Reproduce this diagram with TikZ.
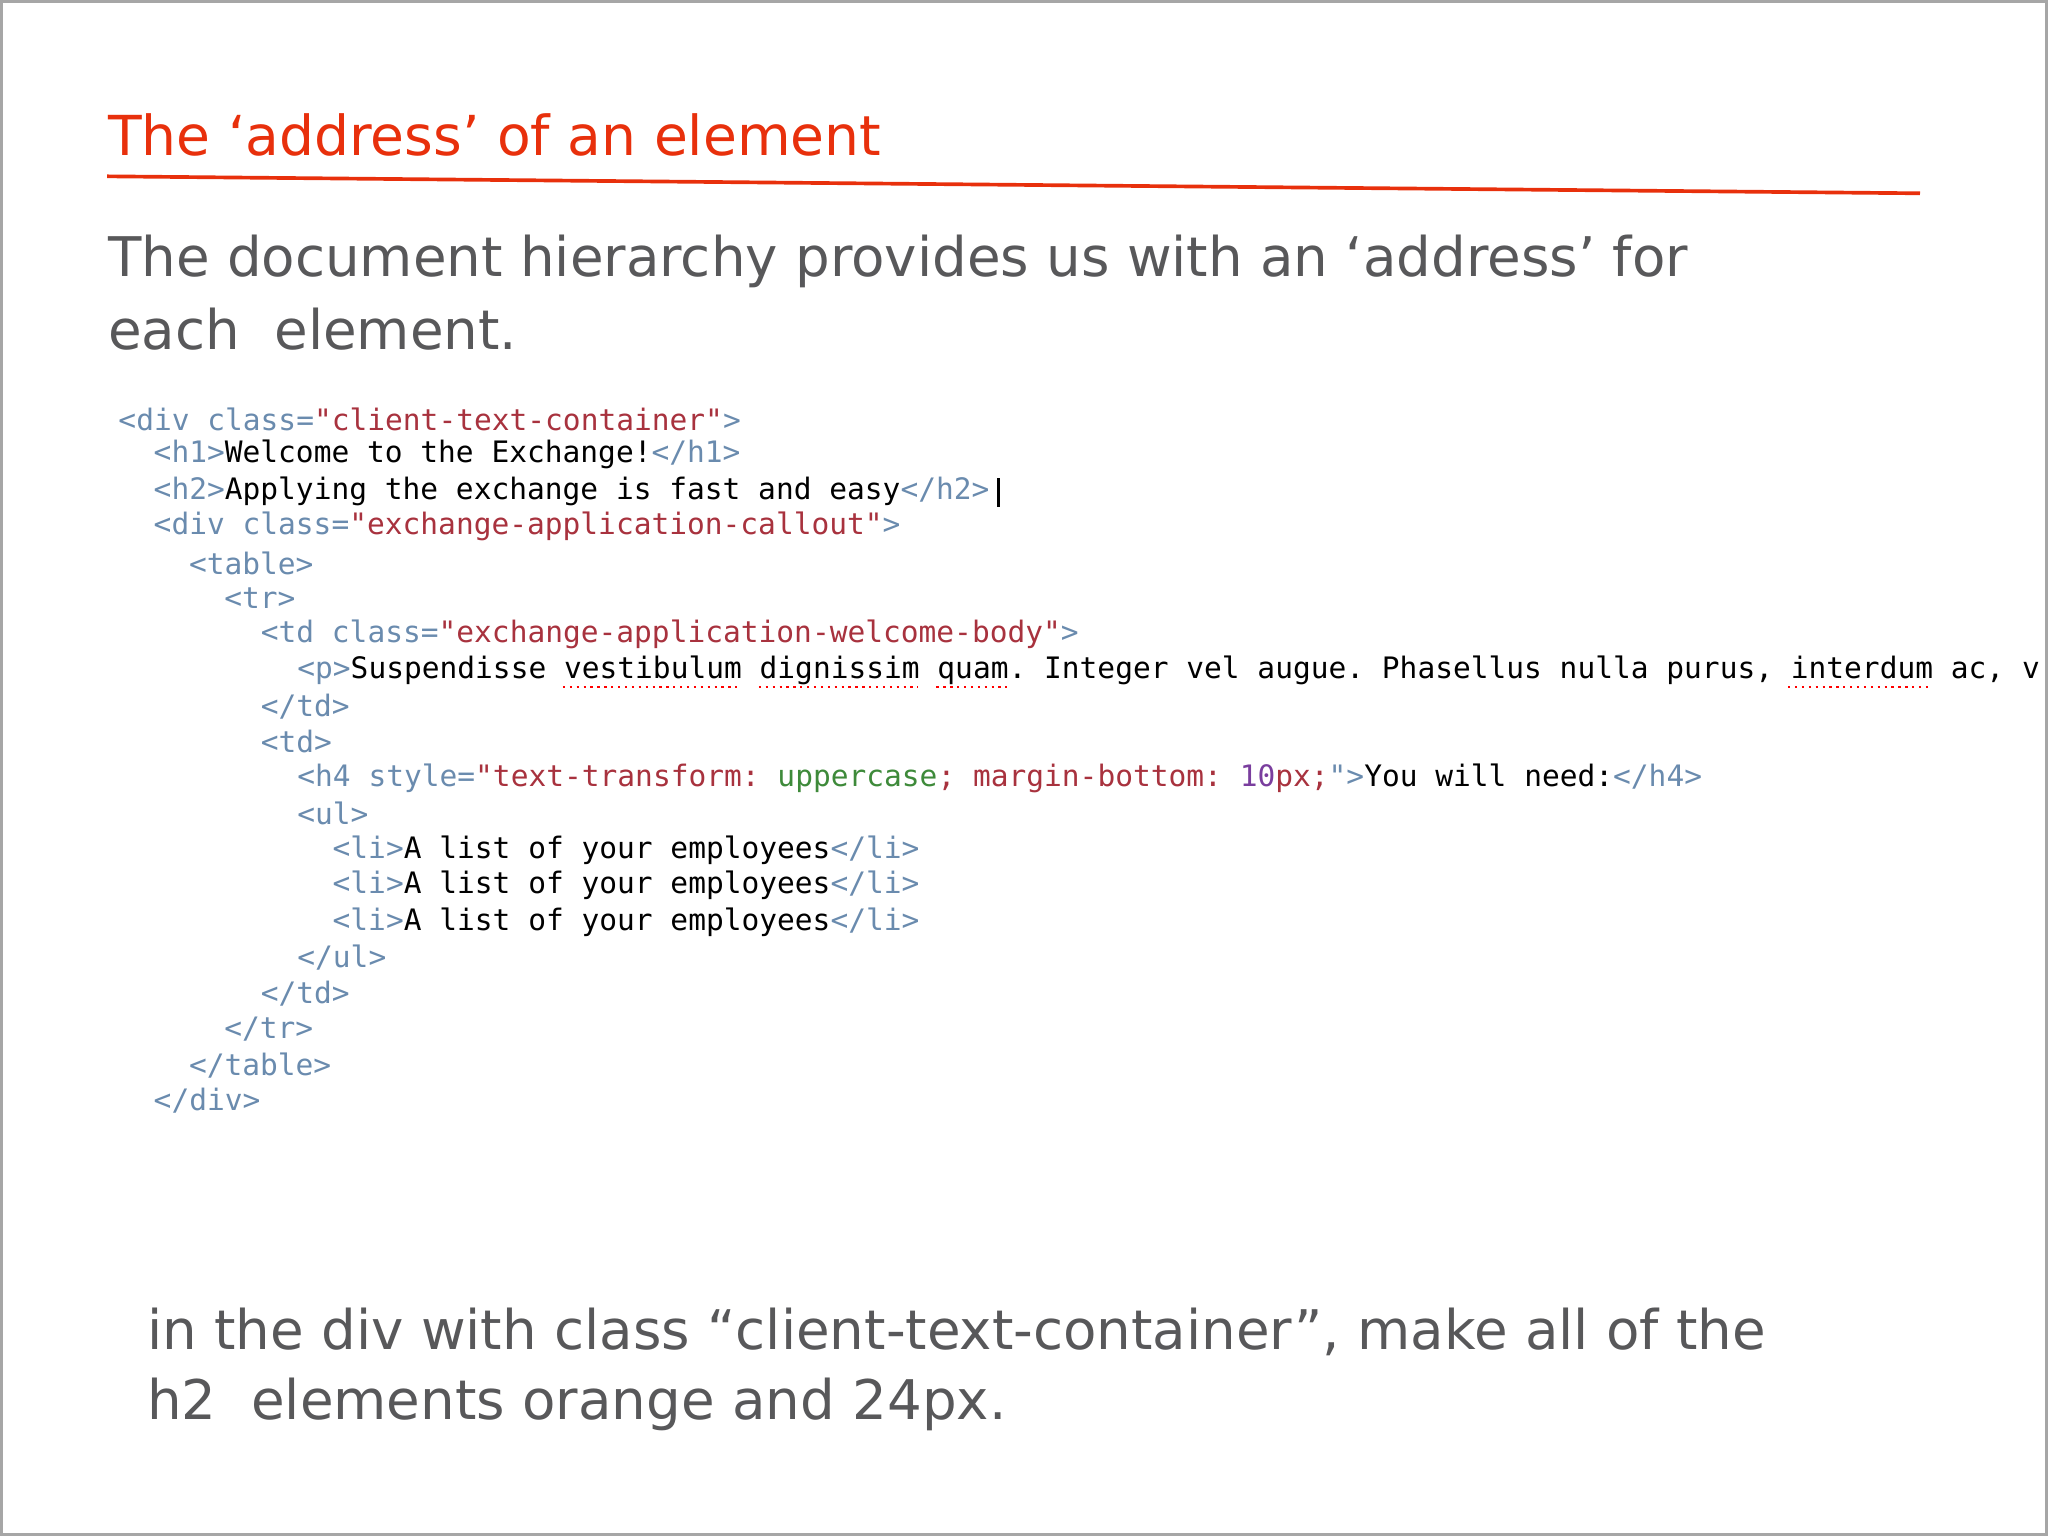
\documentclass[tikz,border=0pt]{standalone}
\usepackage{fontspec}
\setmainfont{DejaVu Sans}
\setmonofont{DejaVu Sans Mono}
\definecolor{titlered}{HTML}{E8300C}
\definecolor{bodygray}{HTML}{58585A}
\definecolor{tagc}{HTML}{6A8BAE}
\definecolor{valc}{HTML}{A8323E}
\definecolor{grnc}{HTML}{3E8A3A}
\definecolor{purc}{HTML}{7A3E9E}
\newcommand{\tg}[1]{\textcolor{tagc}{#1}}
\newcommand{\vl}[1]{\textcolor{valc}{#1}}
\tikzset{
  codeline/.style={anchor=west, inner sep=0pt, font=\ttfamily\fontsize{6.43pt}{7pt}\selectfont, text=black},
  bodytext/.style={anchor=west, inner sep=0pt, text=bodygray, font=\fontsize{11.9pt}{14pt}\selectfont},
  squiggle/.style={red, densely dotted, line width=0.5pt}
}
\begin{document}
\begin{tikzpicture}[x=0.01cm, y=-0.01cm]
  % Frame
  \useasboundingbox (0,0) rectangle (1568,1176);
  \draw[gray!70, line width=0.8pt] (1,1) rectangle (1567,1175);

  % Title
  \node[anchor=west, inner sep=0pt, text=titlered, font=\fontsize{12pt}{14pt}\selectfont] (title) at (82,103) {The ‘address’ of an element};
  \draw[titlered, line width=0.8pt] (82,135) -- (1470,148);

  % Intro text
  \node[bodytext] (intro1) at (82,200) {The document hierarchy provides us with an ‘address’ for};
  \node[bodytext] (intro2) at (82,252) {each\ \ element.};

  % Code
  \begin{scope}
    \clip (0,290) rectangle (1568,870);
    \node[codeline] (c1) at (90,321) {\tg{<div class=}\vl{"client-text-container"}\tg{>}};
    \node[codeline] (c2) at (117,348) {\tg{<h1>}Welcome to the Exchange!\tg{</h1>}};
    \node[codeline] (c3) at (117,376) {\tg{<h2>}Applying the exchange is fast and easy\tg{</h2>}};
    \node[codeline] (c4) at (117,403) {\tg{<div class=}\vl{"exchange-application-callout"}\tg{>}};
    \node[codeline] (c5) at (144,431) {\tg{<table>}};
    \node[codeline] (c6) at (171,458) {\tg{<tr>}};
    \node[codeline] (c7) at (199,486) {\tg{<td class=}\vl{"exchange-application-welcome-body"}\tg{>}};
    \node[codeline] (c8) at (227,513) {\tg{<p>}Suspendisse vestibulum dignissim quam. Integer vel augue. Phasellus nulla purus, interdum ac, v};
    \node[codeline] (c9) at (199,541) {\tg{</td>}};
    \node[codeline] (c10) at (199,568) {\tg{<td>}};
    \node[codeline] (c11) at (227,596) {\tg{<h4 style=}\vl{"text-transform: }\textcolor{grnc}{uppercase}\vl{; margin-bottom: }\textcolor{purc}{10}\vl{px;}\tg{">}You will need:\tg{</h4>}};
    \node[codeline] (c12) at (227,623) {\tg{<ul>}};
    \foreach \i/\y in {13/651, 14/678, 15/706} {
      \node[codeline] (c\i) at (254,\y) {\tg{<li>}A list of your employees\tg{</li>}};
    }
    \node[codeline] (c16) at (227,733) {\tg{</ul>}};
    \node[codeline] (c17) at (199,761) {\tg{</td>}};
    \node[codeline] (c18) at (171,788) {\tg{</tr>}};
    \node[codeline] (c19) at (144,816) {\tg{</table>}};
    \node[codeline] (c20) at (117,843) {\tg{</div>}};
    % Spelling marks
    \foreach \a/\b in {431/567, 581/703, 717/771, 1369/1478} {
      \draw[squiggle] (\a,526) -- (\b,526);
    }
  \end{scope}
  % Cursor
  \draw[black, line width=0.6pt] ([xshift=0.06cm]c3.east |- 0,366) -- ([xshift=0.06cm]c3.east |- 0,388);

  % Task text
  \node[bodytext] (task1) at (112,1020) {in the div with class “client-text-container”, make all of the};
  \node[bodytext] (task2) at (112,1075) {h2\ \ elements orange and 24px.};
\end{tikzpicture}
\end{document}
